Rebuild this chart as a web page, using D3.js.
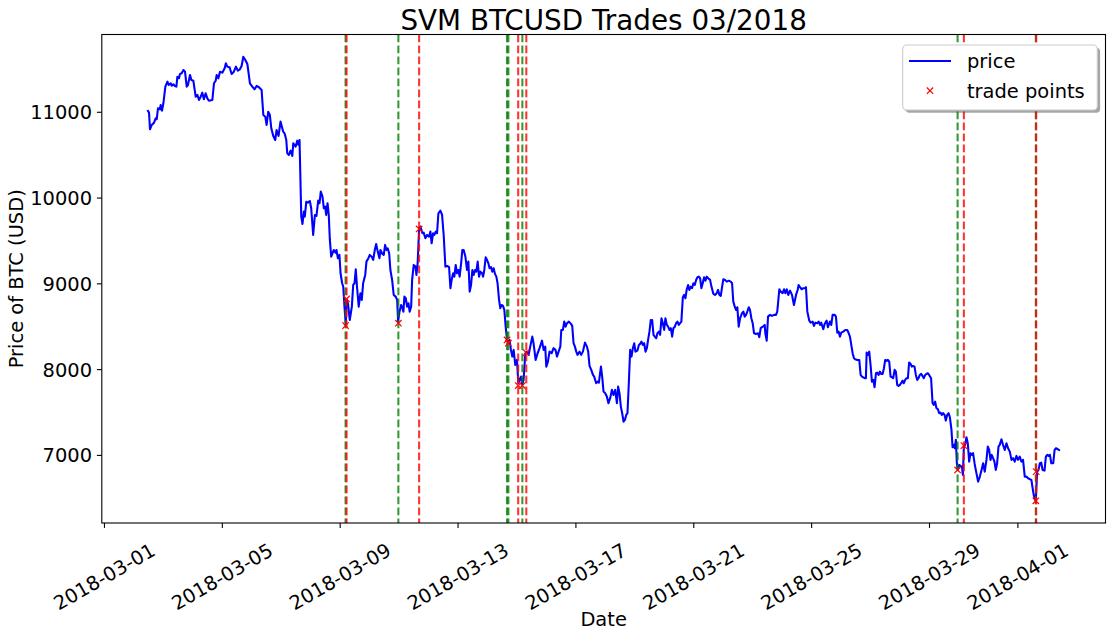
<!DOCTYPE html>
<html><head><meta charset="utf-8">
<script src="https://cdn.jsdelivr.net/npm/d3@7"></script>
<style>
html,body{margin:0;padding:0;background:#fff;}
svg{display:block;font-family:"DejaVu Sans",sans-serif;}
</style></head><body>
<svg id="chart" width="1113" height="636"></svg>
<script>
// ---- data ----
const startDate = "2018-03-01T00:00:00Z"; // hours below are offsets from this instant
const hours = [35.4,36.7,37.5,38.9,40.8,42.1,43.0,44.0,45.6,46.2,47.3,48.4,50.0,51.7,52.7,54.3,55.2,56.5,57.8,59.0,59.8,61.1,61.9,63.3,64.7,66.0,67.4,68.4,70.1,71.2,72.8,74.7,76.1,77.4,78.8,80.1,81.4,82.8,84.2,85.5,88.3,89.6,91.0,91.8,93.2,94.5,96.4,98.3,99.3,100.5,102.3,104.0,105.8,107.5,109.1,110.7,112.1,113.5,114.8,116.8,118.9,120.8,122.7,124.3,126.2,128.4,129.8,131.4,132.5,133.8,135.1,136.3,137.9,139.5,140.6,142.2,143.8,
146.0,147.1,148.5,149.3,150.6,152.0,153.4,154.2,156.1,157.4,158.5,159.3,160.7,161.7,162.8,163.6,164.8,166.1,167.7,168.8,170.4,171.8,173.1,174.5,175.6,176.6,178.0,179.1,180.2,181.0,182.1,183.1,184.0,185.1,186.2,187.2,188.6,189.4,190.5,191.8,192.7,194.0,194.9,195.9,197.0,197.5,198.8,200.2,201.9,203.0,204.1,205.1,206.2,207.5,208.9,210.0,211.1,212.8,213.8,215.4,216.5,218.1,219.3,220.6,221.7,223.0,224.4,225.2,226.8,227.9,229.0,230.1,231.1,232.3,233.3,234.7,236.0,237.6,238.8,239.6,240.7,242.0,243.1,243.9,244.7,245.8,246.9,248.0,249.0,250.2,251.0,252.3,253.7,254.5,255.5,256.7,257.7,259.4,260.4,261.8,263.2,264.8,265.9,266.9,268.1,269.1,270.2,271.3,272.4,274.0,275.4,276.7,278.1,279.5,281.1,282.2,283.2,284.4,285.4,286.5,287.6,288.7,289.7,290.9,291.9,293.0,294.4,295.7,296.8,297.9,299.0,300.1,301.1,302.3,303.3,304.4,305.5,306.6,308.0,308.8,309.8,310.9,312.0,313.1,314.1,315.3,316.3,317.4,318.5,319.6,320.6,321.8,322.8,323.9,325.0,326.1,327.2,328.3,329.4,330.4,331.5,332.6,333.7,335.0,336.4,337.5,338.5,339.7,340.7,341.8,343.2,344.6,
345.9,347.2,348.9,349.9,351.6,353.2,354.8,356.8,358.1,359.4,360.3,361.6,362.9,364.6,366.2,367.8,369.0,370.3,371.7,372.5,373.8,374.9,376.0,377.1,378.7,380.4,381.4,382.5,383.6,384.7,385.7,387.4,388.7,390.1,391.8,393.4,394.4,395.5,396.9,398.3,399.3,400.9,402.0,403.1,404.8,405.8,406.9,408.3,409.6,410.9,412.3,413.7,415.0,416.4,417.8,418.8,419.9,421.0,422.1,423.2,424.3,425.4,426.4,427.5,428.6,429.7,430.8,431.9,432.9,434.5,435.7,436.7,437.8,438.9,440.0,441.1,442.2,443.2,444.3,445.4,446.5,447.6,448.7,449.8,450.8,452.0,453.0,454.1,455.2,456.3,457.3,458.5,459.5,460.6,461.7,462.8,463.8,465.0,466.0,467.1,468.2,469.3,470.3,471.5,472.5,473.6,474.7,475.8,476.8,478.0,479.0,480.1,481.2,482.3,483.4,484.5,485.6,486.6,487.7,488.8,489.9,491.0,492.1,493.7,494.8,496.4,497.7,499.1,500.2,501.3,502.4,503.5,504.5,505.9,507.3,508.9,510.5,511.6,512.6,513.8,514.8,515.9,517.0,518.1,519.7,520.8,521.9,523.0,524.0,525.2,526.2,527.3,528.4,529.5,531.1,532.7,533.8,534.9,536.6,538.2,538.7,539.8,540.9,542.5,544.1,545.8,547.4,548.4,550.1,
551.2,552.8,553.9,555.0,556.1,557.4,558.8,560.4,562.0,563.7,565.0,565.8,566.9,568.3,569.6,571.0,571.8,572.9,574.5,575.6,577.2,578.3,579.4,581.0,582.1,583.2,584.2,585.9,587.0,588.6,589.7,591.3,592.4,593.5,595.2,596.2,597.3,598.4,599.5,600.5,602.2,603.8,605.4,606.6,607.6,608.7,609.8,610.9,611.9,613.5,615.2,616.3,617.4,619.6,620.6,621.2,622.2,623.3,624.4,625.5,626.6,627.7,628.8,629.8,631.0,632.0,633.1,634.2,635.3,636.3,637.5,638.5,639.6,640.7,641.8,642.8,644.0,645.0,646.1,647.2,648.3,649.3,650.5,651.5,652.6,653.7,654.8,655.8,657.0,658.0,658.9,660.2,661.3,662.4,663.5,664.5,665.6,666.7,667.8,668.9,670.0,671.0,672.1,673.7,674.9,675.9,677.0,678.1,679.2,680.3,681.4,682.5,683.5,684.7,685.7,686.8,688.0,
689.0,690.3,691.2,692.2,693.0,693.9,694.7,695.5,696.5,697.7,698.8,699.6,700.4,701.4,702.5,703.6,704.7,705.8,706.9,707.9,709.1,710.1,711.2,712.0,713.4,714.8,716.1,717.4,718.8,719.9,721.0,722.1,723.1,724.2,725.3,726.4,727.5,728.6,729.6,731.0,732.3,733.7,735.1,736.4,737.8,739.2,740.5,741.8,743.2,744.5,745.9,747.3,748.6,750.0,751.3,752.7,754.1,755.4,756.2,757.3,758.4,759.0,759.5,760.1,761.2,762.3,763.4,764.5,766.1,767.2,768.3,769.4,770.5,771.6,773.2,774.3,775.4,777.0,778.6];
const prices = [11021,10990,10796,10846,10873,10924,10913,11041,11029,11079,11013,11099,11293,11351,11312,11332,11304,11321,11301,11293,11409,11390,11441,11449,11487,11467,11293,11312,11429,11371,11362,11176,11196,11137,11176,11223,11146,11216,11157,11129,11137,11332,11362,11429,11390,11467,11456,11507,11565,11526,11519,11441,11467,11526,11479,11495,11534,11642,11612,11557,11332,11293,11262,11301,11286,11254,10963,10943,10846,11001,10963,10808,10718,10671,10788,10718,10885,
10768,10749,10671,10516,10497,10547,10485,10633,10593,10663,10613,10671,9777,9692,9836,9777,9952,9941,9960,9875,9564,9797,9786,9964,9934,10069,10011,9875,9894,9797,9934,9797,9506,9311,9351,9389,9358,9389,9293,9331,9118,9001,8962,8728,8507,8818,8760,8573,8728,8981,9001,9164,8943,8728,8885,8807,9001,9098,9253,9293,9331,9311,9273,9389,9459,9370,9293,9389,9343,9331,9448,9389,9409,9351,9156,9040,8865,8845,8807,8554,8670,8748,8710,8670,8845,8826,8728,8768,8670,8728,9040,9214,9195,9098,9234,9642,9661,9584,9591,9526,9564,9544,9603,9467,9584,9564,9603,9584,9817,9847,9797,9564,9195,9203,9188,8943,9040,9118,9078,9214,9118,9156,9078,9234,9389,9389,9311,9156,9253,8903,8981,9156,9098,9156,9136,9253,9078,9136,9118,9078,9156,9304,9273,9234,9176,9188,9136,9176,9110,9078,9001,8807,8710,8748,8737,8690,8495,8340,8302,8340,8224,8146,8224,8049,8107,7836,7874,7913,7816,7874,8185,8204,
8166,8262,8379,8302,8107,8185,8244,8332,8224,8262,8029,8087,8204,8185,8244,8224,8146,8204,8262,8457,8457,8554,8495,8535,8554,8527,8504,8302,8262,8204,8166,8204,8166,8204,8309,8262,8204,8037,7991,7932,7913,7836,7854,7843,8029,7913,7738,7719,7680,7603,7661,7758,7699,7758,7603,7796,7719,7563,7486,7388,7408,7466,7486,7836,8224,8146,8244,8302,8204,8216,8282,8294,8321,8282,8302,8204,8244,8340,8437,8573,8573,8399,8379,8360,8418,8437,8399,8593,8535,8457,8593,8515,8495,8457,8477,8379,8477,8495,8535,8554,8515,8535,8554,8838,8865,8826,8931,8981,8923,8962,8943,9001,8981,9040,9071,9078,9059,8943,9001,9071,9031,9078,9059,9040,8962,8876,8865,8885,8923,8865,8853,8962,9048,9040,9020,9031,9020,9001,8787,8728,8690,8721,8495,8593,8652,8670,8612,8632,8670,8721,8690,8593,8535,8418,8410,8418,8372,8477,8495,8515,8418,8332,8612,8632,8620,8632,8632,8670,8931,
8903,8885,8931,8885,8931,8865,8915,8865,8748,8865,8923,8981,8955,8931,8943,8943,8955,8670,8565,8542,8554,8504,8542,8535,8554,8515,8542,8465,8527,8565,8488,8554,8515,8632,8632,8612,8425,8437,8379,8425,8437,8457,8457,8418,8379,8282,8185,8127,8115,8107,8107,7932,7913,7894,7894,8192,8166,8204,8049,7854,7874,7789,7952,7959,7932,7971,7944,7944,8010,8107,8096,8107,8087,7913,7906,7894,7991,7971,7816,7804,7816,7836,7866,7836,7874,7894,7894,8076,8061,8029,8037,8029,7932,7874,7894,7932,7944,7921,7894,7932,7944,7952,7932,7894,7603,7583,7621,7544,7533,7486,7493,7466,7486,7466,7400,7466,7486,
7439,7291,7090,7117,7078,7175,6903,6825,6883,6872,6864,6767,7097,7117,7206,7136,6922,7020,7000,7020,6903,6825,6747,6689,6747,6825,6903,6805,6942,7097,7058,6942,7000,6962,6922,6825,6903,7097,7117,7183,7117,7058,7136,7078,7038,6942,6962,6922,6988,6942,6980,6922,6942,6747,6747,6728,6717,6709,6630,6534,6475,6465,6630,6805,6825,6903,6910,6825,6817,6980,7000,6988,7000,6903,6903,7058,7078,7066,7050];

const tradeHours  = [196.8, 197.6, 239.8, 256.7, 328.3, 329.4, 337.4, 340.8, 344.0, 695.3, 700.4, 759.0, 759.3];
const tradePrices = [8507, 8818, 8535, 9634, 8340, 8302, 7808, 7808, 8192, 6825, 7108, 6465, 6805];
const tradeSides  = ["buy","sell","buy","sell","buy","buy","sell","buy","sell","buy","sell","buy","sell"];

const xTickLabels = ["2018-03-01","2018-03-05","2018-03-09","2018-03-13","2018-03-17","2018-03-21","2018-03-25","2018-03-29","2018-04-01"];
const yTickValues = [7000, 8000, 9000, 10000, 11000];
const titleText = "SVM BTCUSD Trades 03/2018";
const xLabel = "Date";
const yLabel = "Price of BTC (USD)";
const legendLabels = ["price", "trade points"];

// ---- layout ----
const L = 101.8, R = 1105.5, T = 34.5, B = 523;
const FS = 19.44;
const base = new Date(startDate).getTime();
const toDate = h => new Date(base + h * 3600e3);
const series = hours.map((h, i) => ({t: toDate(h), p: prices[i]}));
const trades = tradeHours.map((h, i) => ({t: toDate(h), p: tradePrices[i], side: tradeSides[i]}));

const tExt = d3.extent(series, d => +d.t);
const tPad = (tExt[1] - tExt[0]) * 0.05;
const x = d3.scaleUtc().domain([new Date(tExt[0] - tPad), new Date(tExt[1] + tPad)]).range([L, R]);
const pExt = d3.extent(prices.concat(tradePrices));
const pPad = (pExt[1] - pExt[0]) * 0.05;
const y = d3.scaleLinear().domain([pExt[0] - pPad, pExt[1] + pPad]).range([B, T]);

const svg = d3.select("#chart");

// price line
svg.append("path").datum(series)
  .attr("fill", "none").attr("stroke", "#0000ff").attr("stroke-width", 2.08)
  .attr("stroke-linejoin", "round").attr("stroke-linecap", "butt")
  .attr("d", d3.line().x(d => x(d.t)).y(d => y(d.p)));

// trade vertical lines
svg.append("g").selectAll("line").data(trades).join("line")
  .attr("x1", d => x(d.t)).attr("x2", d => x(d.t))
  .attr("y1", T).attr("y2", B)
  .attr("stroke", d => d.side === "buy" ? "#008000" : "#ff0000")
  .attr("stroke-opacity", 0.8)
  .attr("stroke-width", 2.08)
  .attr("stroke-dasharray", "7.7,3.3");

// trade markers
const xMark = "M-3.2,-3.2L3.2,3.2M-3.2,3.2L3.2,-3.2";
svg.append("g").selectAll("path").data(trades).join("path")
  .attr("transform", d => `translate(${x(d.t)},${y(d.p)})`)
  .attr("d", xMark).attr("stroke", "#ff0000").attr("stroke-width", 1.2).attr("fill", "none");

// axes
const xAxis = svg.append("g").attr("transform", `translate(0,${B})`)
  .call(d3.axisBottom(x)
    .tickValues(xTickLabels.map(s => new Date(s + "T00:00:00Z")))
    .tickFormat(d3.utcFormat("%Y-%m-%d"))
    .tickSizeOuter(0).tickSize(4.9));
xAxis.select(".domain").remove();
xAxis.selectAll(".tick line").attr("stroke", "#000").attr("stroke-width", 1.1);
xAxis.selectAll(".tick text")
  .attr("y", null).attr("dy", null)
  .attr("text-anchor", "middle").attr("dominant-baseline", "central")
  .attr("transform", "translate(0,54) rotate(-30)")
  .attr("font-size", FS).attr("font-family", "DejaVu Sans").attr("fill", "#000");

const yAxis = svg.append("g").attr("transform", `translate(${L},0)`)
  .call(d3.axisLeft(y).tickValues(yTickValues).tickFormat(d3.format("d"))
    .tickSizeOuter(0).tickSize(4.9).tickPadding(4.9));
yAxis.select(".domain").remove();
yAxis.selectAll(".tick line").attr("stroke", "#000").attr("stroke-width", 1.1);
yAxis.selectAll(".tick text").attr("font-size", FS).attr("font-family", "DejaVu Sans")
  .attr("fill", "#000").attr("dy", "0.36em");

// frame
svg.append("rect").attr("x", L).attr("y", T).attr("width", R - L).attr("height", B - T)
  .attr("fill", "none").attr("stroke", "#000").attr("stroke-width", 1.1);

// title and labels
svg.append("text").attr("x", (L + R) / 2).attr("y", 30).attr("text-anchor", "middle")
  .attr("font-size", 27.8).text(titleText);
svg.append("text").attr("x", (L + R) / 2).attr("y", 626).attr("text-anchor", "middle")
  .attr("font-size", FS).text(xLabel);
svg.append("text").attr("transform", `translate(23,${(T + B) / 2}) rotate(-90)`)
  .attr("text-anchor", "middle").attr("font-size", FS).text(yLabel);

// legend
const lg = svg.append("g");
lg.append("rect").attr("x", 905.5).attr("y", 47.8).attr("width", 194.6).attr("height", 65).attr("rx", 4)
  .attr("fill", "#4d4d4d").attr("fill-opacity", 0.5);
lg.append("rect").attr("x", 902.7).attr("y", 45).attr("width", 194.6).attr("height", 65).attr("rx", 4)
  .attr("fill", "#fff").attr("stroke", "#ccc").attr("stroke-width", 1.1);
lg.append("line").attr("x1", 909).attr("x2", 951).attr("y1", 61).attr("y2", 61)
  .attr("stroke", "#0000ff").attr("stroke-width", 2.08);
lg.append("path").attr("transform", "translate(930,90.7)").attr("d", xMark)
  .attr("stroke", "#ff0000").attr("stroke-width", 1.2).attr("fill", "none");
lg.selectAll("text.lab").data(legendLabels).join("text").attr("class", "lab")
  .attr("x", 967).attr("y", (d, i) => 61 + i * 29.7).attr("dy", "0.36em")
  .attr("font-size", FS).text(d => d);
</script>
</body></html>
